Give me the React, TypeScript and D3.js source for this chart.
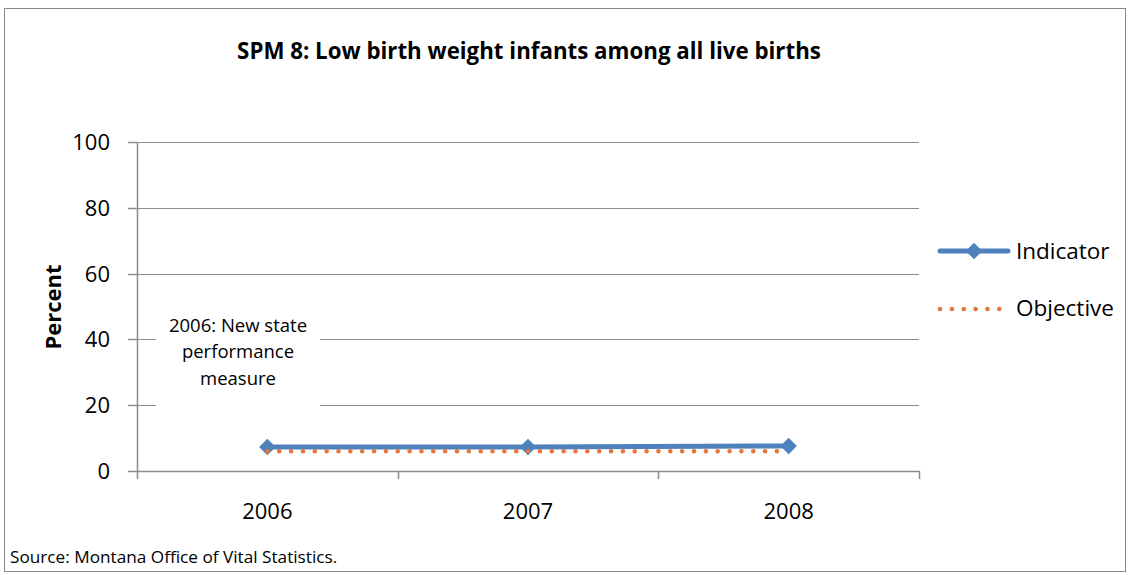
import React, { useEffect, useRef } from "react";
import * as d3 from "d3";

const categories = ["2006", "2007", "2008"];
const indicatorValues = [7.3, 7.3, 7.6];
const objectiveValues = [6.0, 6.0, 6.0];
const yTicks = [0, 20, 40, 60, 80, 100];
const title = "SPM 8: Low birth weight infants among all live births";
const yTitle = "Percent";
const annotationLines = ["2006: New state", "performance", "measure"];
const sourceText = "Source: Montana Office of Vital Statistics.";
const legendItems = ["Indicator", "Objective"];

const FONT = "'Open Sans', sans-serif";
const BLUE = "#4F81BD";
const ORANGE = "#E5773A";
const GRID = "#8c8c8c";

export default function App() {
  const ref = useRef<SVGSVGElement>(null);
  useEffect(() => {
    const svg = d3.select(ref.current);
    svg.selectAll("*").remove();
    const left = 137, right = 919, top = 142, bottom = 471;

    svg.append("rect").attr("x", 4.5).attr("y", 8.5).attr("width", 1121).attr("height", 563)
      .attr("fill", "white").attr("stroke", "#898989").attr("stroke-width", 1);

    const x = d3.scaleBand().domain(categories).range([left, right]);
    const y = d3.scaleLinear().domain([0, 100]).range([bottom, top]);

    svg.append("g").selectAll("line").data(yTicks.filter(t => t > 0)).join("line")
      .attr("x1", left).attr("x2", right)
      .attr("y1", d => Math.round(y(d)) + 0.5).attr("y2", d => Math.round(y(d)) + 0.5)
      .attr("stroke", GRID).attr("stroke-width", 1);

    const yAxis = svg.append("g");
    yAxis.append("line").attr("x1", left + 0.5).attr("x2", left + 0.5).attr("y1", top).attr("y2", bottom)
      .attr("stroke", GRID).attr("stroke-width", 1.5);
    yAxis.selectAll("line.tick").data(yTicks).join("line").attr("class", "tick")
      .attr("x1", left - 9).attr("x2", left)
      .attr("y1", d => Math.round(y(d)) + 0.5).attr("y2", d => Math.round(y(d)) + 0.5)
      .attr("stroke", GRID).attr("stroke-width", 1.5);
    yAxis.selectAll("text").data(yTicks).join("text")
      .attr("x", 110).attr("y", d => y(d)).attr("dy", "0.36em")
      .attr("text-anchor", "end").attr("font-family", FONT).attr("font-size", 22)
      .attr("fill", "#000").text(d => String(d));

    const xAxis = svg.append("g");
    xAxis.append("line").attr("x1", left).attr("x2", right).attr("y1", bottom + 0.5).attr("y2", bottom + 0.5)
      .attr("stroke", GRID).attr("stroke-width", 1.5);
    const bounds = [...categories.map(c => x(c) as number), right];
    xAxis.selectAll("line.tick").data(bounds).join("line").attr("class", "tick")
      .attr("x1", d => Math.round(d) + 0.5).attr("x2", d => Math.round(d) + 0.5)
      .attr("y1", bottom).attr("y2", bottom + 8)
      .attr("stroke", GRID).attr("stroke-width", 1.5);
    xAxis.selectAll("text").data(categories).join("text")
      .attr("x", d => (x(d) as number) + x.bandwidth() / 2).attr("y", 511).attr("dy", "0.36em")
      .attr("text-anchor", "middle").attr("font-family", FONT).attr("font-size", 22)
      .attr("fill", "#000").text(d => d);

    const cx = (c: string) => (x(c) as number) + x.bandwidth() / 2;

    const indLine = d3.line<number>().x((_, i) => cx(categories[i])).y(d => y(d));
    svg.append("path").attr("d", indLine(indicatorValues)).attr("fill", "none")
      .attr("stroke", BLUE).attr("stroke-width", 5);
    const diamond = d3.symbol().type(d3.symbolDiamond2).size(175);
    svg.selectAll("path.marker").data(indicatorValues).join("path").attr("class", "marker")
      .attr("d", diamond()).attr("transform", (d, i) => `translate(${cx(categories[i])},${y(d)})`)
      .attr("fill", BLUE);

    const objLine = d3.line<number>().x((_, i) => cx(categories[i])).y(d => y(d));
    svg.append("path").attr("d", objLine(objectiveValues)).attr("fill", "none")
      .attr("stroke", ORANGE).attr("stroke-width", 4.5).attr("stroke-linecap", "round")
      .attr("stroke-dasharray", "0.1 11.75");

    svg.append("rect").attr("x", 156).attr("y", 306).attr("width", 164).attr("height", 104).attr("fill", "white");
    svg.append("g").selectAll("text").data(annotationLines).join("text")
      .attr("x", 238).attr("y", (_, i) => 325 + i * 26.5).attr("dy", "0.36em")
      .attr("text-anchor", "middle").attr("font-family", FONT).attr("font-size", 18.5)
      .attr("fill", "#000").text(d => d);

    svg.append("text").attr("x", 529).attr("y", 51).attr("dy", "0.36em").attr("text-anchor", "middle")
      .attr("font-family", FONT).attr("font-weight", "bold").attr("font-size", 22.3).attr("fill", "#000")
      .text(title);

    svg.append("text").attr("transform", "translate(53,307) rotate(-90)").attr("dy", "0.36em")
      .attr("text-anchor", "middle").attr("font-family", FONT).attr("font-weight", "bold")
      .attr("font-size", 22).attr("fill", "#000").text(yTitle);

    const lg = svg.append("g");
    lg.append("line").attr("x1", 940).attr("x2", 1008).attr("y1", 251).attr("y2", 251)
      .attr("stroke", BLUE).attr("stroke-width", 5).attr("stroke-linecap", "round");
    lg.append("path").attr("d", diamond()).attr("transform", "translate(974,251)").attr("fill", BLUE);
    lg.append("line").attr("x1", 940).attr("x2", 1002).attr("y1", 309).attr("y2", 309)
      .attr("stroke", ORANGE).attr("stroke-width", 4.5).attr("stroke-linecap", "round")
      .attr("stroke-dasharray", "0.1 11.75");
    lg.selectAll("text").data(legendItems).join("text")
      .attr("x", 1016).attr("y", (_, i) => 251 + i * 57).attr("dy", "0.36em")
      .attr("font-family", FONT).attr("font-size", 22.5).attr("fill", "#000").text(d => d);

    svg.append("text").attr("x", 10).attr("y", 557).attr("dy", "0.36em")
      .attr("font-family", FONT).attr("font-size", 17.2).attr("fill", "#000").text(sourceText);
  }, []);
  return (
    <svg ref={ref} width={1129} height={575}
      style={{ position: "absolute", left: 0, top: 0, background: "white" }} />
  );
}
